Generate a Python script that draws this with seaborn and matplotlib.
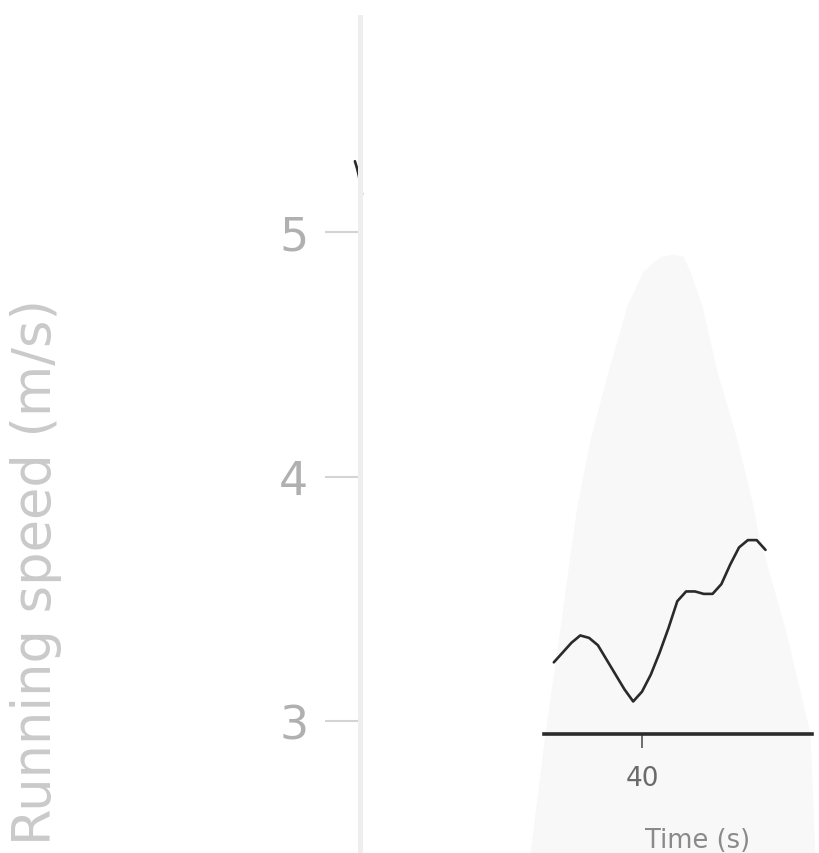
import matplotlib
matplotlib.use("Agg")
import matplotlib.pyplot as plt
import seaborn as sns

# Running speed sampled once per second
time_s = [30, 31, 32, 33, 34, 35, 36, 37, 38, 39, 40, 41, 42,
          43, 44, 45, 46, 47, 48, 49, 50, 51, 52, 53, 54]
speed = [3.24, 3.28, 3.32, 3.35, 3.34, 3.31, 3.25, 3.19, 3.13, 3.08,
         3.12, 3.19, 3.28, 3.38, 3.49, 3.53, 3.53, 3.52, 3.52, 3.56,
         3.64, 3.71, 3.74, 3.74, 3.70]

# Short early stretch of the same recording
early_time = [7.45, 7.7, 7.9, 8.1, 8.25]
early_speed = [5.29, 5.26, 5.23, 5.19, 5.155]

# Envelope drawn behind the trace
band_time = [27.3, 29.0, 30.7, 32.18, 32.63, 34.10, 36.15, 38.30, 40.11,
             42.04, 43.51, 44.65, 45.44, 46.80, 48.50, 50.77, 52.59, 53.15,
             56.2, 59.05, 59.6]
band_upper = [2.46, 2.95, 3.38, 3.77, 3.88, 4.15, 4.43, 4.70, 4.84,
              4.90, 4.91, 4.90, 4.84, 4.70, 4.43, 4.15, 3.88, 3.77,
              3.38, 2.95, 2.46]

x_ticks = [40]
y_ticks = [3, 4, 5]

sns.set_theme(style="white")
plt.rcParams["font.family"] = ["DejaVu Sans"]

fig = plt.figure(figsize=(8.2, 8.54), dpi=100)
ax = fig.add_axes([340 / 820, 0, 480 / 820, 836 / 854])

ax.fill_between(band_time, 2.0, band_upper, color="#f8f8f8", lw=0, zorder=0)
sns.lineplot(x=time_s, y=speed, ax=ax, color="#2a2a2a", lw=1.9)
sns.lineplot(x=early_time, y=early_speed, ax=ax, color="#2a2a2a", lw=1.9)

ax.set_xlim(5.76, 60.18)
ax.set_ylim(2.46, 5.88)
ax.set_xticks(x_ticks)
ax.set_yticks(y_ticks)

for side in ("top", "right"):
    ax.spines[side].set_visible(False)
ax.spines["left"].set_position(("data", 8))
ax.spines["left"].set_color("#eeeeee")
ax.spines["left"].set_linewidth(3.6)
ax.spines["bottom"].set_position(("data", 2.947))
ax.spines["bottom"].set_bounds(28.9, 59.3)
ax.spines["bottom"].set_color("#2b2b2b")
ax.spines["bottom"].set_linewidth(2.6)

ax.tick_params(axis="y", left=True, direction="out", length=25, width=1.5,
               color="#d4d4d4", labelsize=33, labelcolor="#b0b0b0", pad=12)
ax.tick_params(axis="x", bottom=True, direction="out", length=10, width=1.2,
               color="#555555", labelsize=19, labelcolor="#6b6b6b", pad=12)

ax.set_ylabel("Running speed (m/s)", fontsize=38, color="#cacaca")
ax.yaxis.label.set_va("center")
ax.yaxis.set_label_coords(-0.633, 0.337)
ax.set_xlabel("Time (s)", fontsize=18.5, color="#8a8a8a")
ax.xaxis.set_label_coords(0.745, 0.031)

fig.savefig("out.png", dpi=100)
